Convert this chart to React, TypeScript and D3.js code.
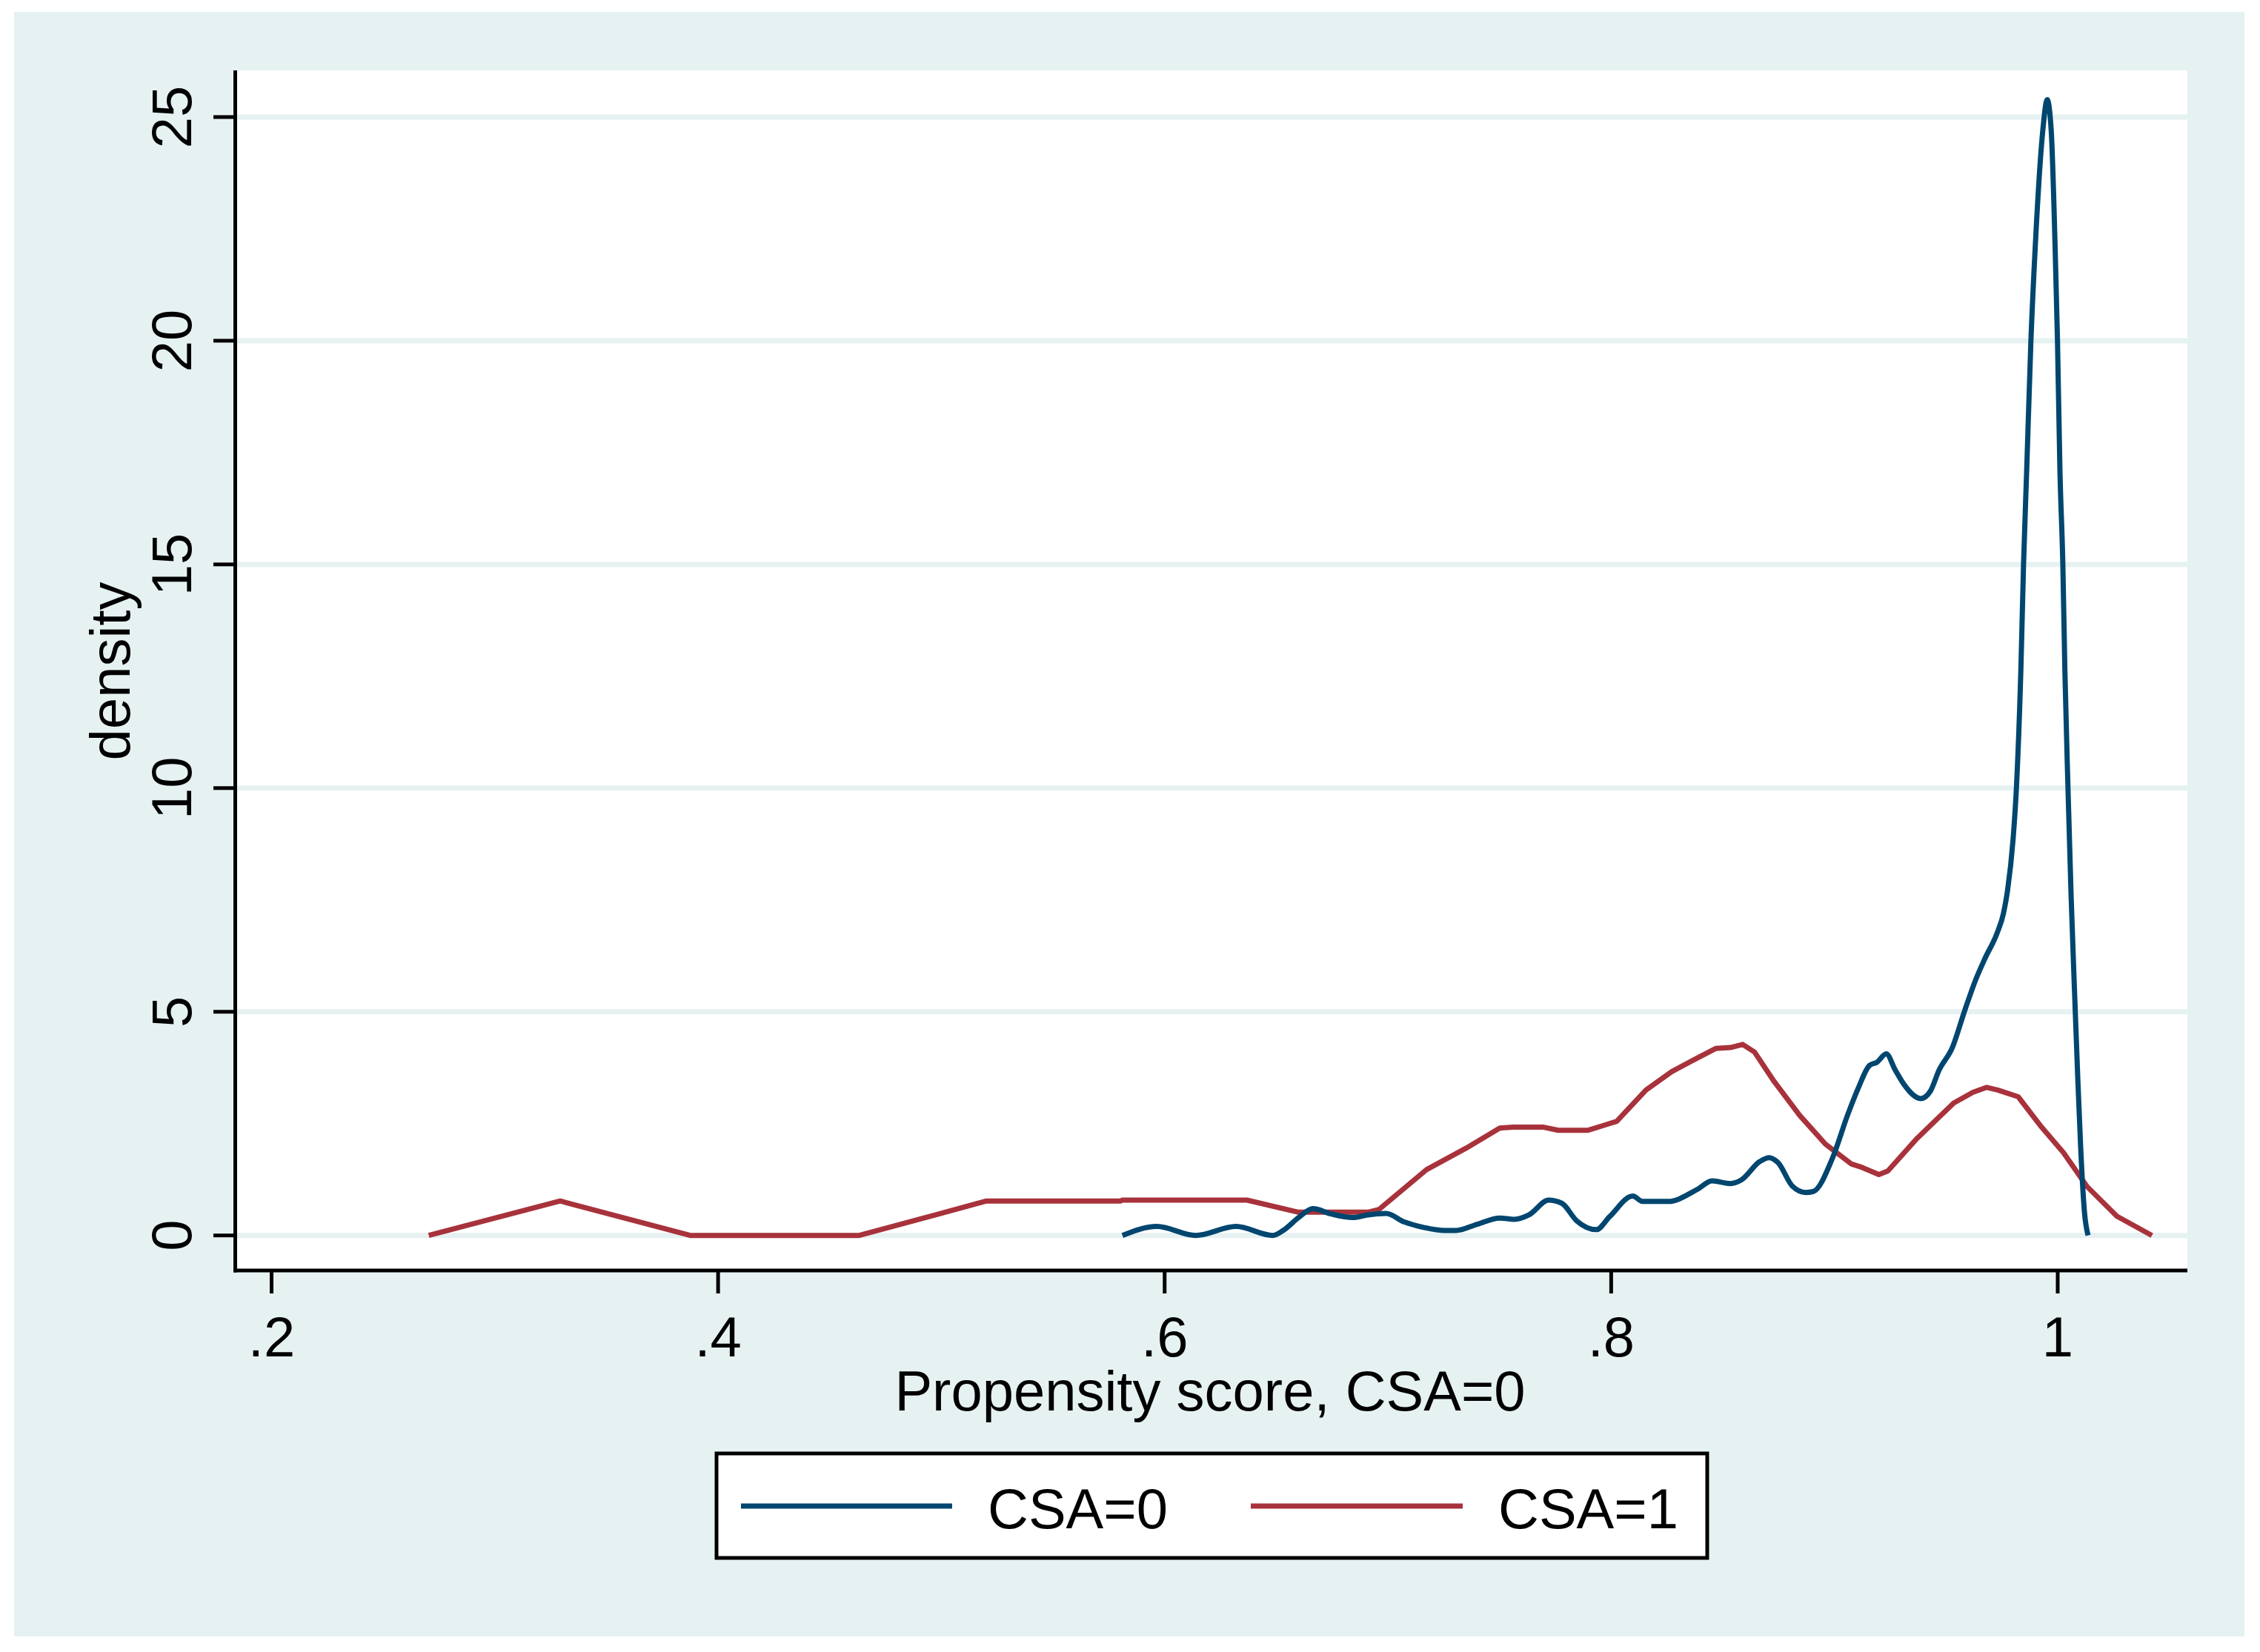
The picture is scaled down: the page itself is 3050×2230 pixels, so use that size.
import React, { useEffect } from "react";
import * as d3 from "d3";

// ---- data ----
const xTicks = [0.2, 0.4, 0.6, 0.8, 1.0];
const xTickLabels = [".2", ".4", ".6", ".8", "1"];
const yTicks = [0, 5, 10, 15, 20, 25];
const yTickLabels = ["0", "5", "10", "15", "20", "25"];
const seriesNames = ["CSA=0", "CSA=1"];
const seriesColors = ["#00466f", "#a8323b"];
const xTitle = "Propensity score, CSA=0";
const yTitle = "density";

// CSA=0 density
const csa0: [number, number][] = [
  [0.5811, 0], [0.5965, 0.2], [0.6139, 0.0], [0.632, 0.2], [0.6484, 0.0], [0.6533, 0.12],
  [0.66, 0.4], [0.6664, 0.6], [0.6746, 0.48], [0.6844, 0.4], [0.691, 0.46], [0.6992, 0.49],
  [0.7074, 0.3], [0.716, 0.18], [0.7254, 0.11], [0.7304, 0.11], [0.74, 0.25], [0.7501, 0.39],
  [0.7566, 0.36], [0.7632, 0.46], [0.772, 0.79], [0.7779, 0.72], [0.7845, 0.33], [0.7934, 0.13],
  [0.7993, 0.42], [0.8097, 0.88], [0.814, 0.76], [0.8255, 0.76], [0.8386, 1.03], [0.8452, 1.22],
  [0.8534, 1.16], [0.8583, 1.24], [0.8665, 1.65], [0.8707, 1.74], [0.8747, 1.63], [0.8812, 1.1],
  [0.8871, 0.96], [0.8904, 0.98], [0.8993, 1.75], [0.9058, 2.68], [0.9108, 3.31], [0.9157, 3.8],
  [0.919, 3.87], [0.9232, 4.06], [0.9272, 3.7], [0.9311, 3.38], [0.9387, 3.06], [0.9429, 3.22],
  [0.9469, 3.7], [0.9528, 4.2], [0.9583, 5.02], [0.9633, 5.72], [0.9675, 6.2], [0.9731, 6.79],
  [0.9757, 7.2], [0.9775, 7.7], [0.98, 8.85], [0.9815, 10.0], [0.9835, 12.65], [0.9847, 15.0],
  [0.9861, 17.09], [0.988, 20.0], [0.99, 22.16], [0.9933, 24.69], [0.9953, 25.39], [0.9971, 24.69],
  [0.9988, 22.16], [0.9999, 20.0], [1.001, 17.09], [1.0023, 15.0], [1.0032, 12.65], [1.0046, 10.0],
  [1.006, 7.59], [1.0075, 5.5], [1.009, 3.5], [1.0103, 1.95], [1.012, 0.51], [1.0136, 0],
];

// CSA=1 density
const csa1: [number, number][] = [
  [0.2704, 0], [0.3293, 0.77], [0.3875, 0], [0.4632, 0], [0.5202, 0.77], [0.5803, 0.77],
  [0.581, 0.79], [0.6369, 0.79], [0.6599, 0.52], [0.691, 0.52], [0.696, 0.58], [0.7173, 1.47],
  [0.735, 1.95], [0.7501, 2.4], [0.756, 2.42], [0.7698, 2.42], [0.7763, 2.35], [0.7894, 2.35],
  [0.796, 2.45], [0.8025, 2.55], [0.8156, 3.25], [0.8271, 3.66], [0.838, 3.95], [0.8468, 4.18],
  [0.8534, 4.2], [0.8589, 4.27], [0.8642, 4.1], [0.873, 3.44], [0.8845, 2.68], [0.896, 2.04],
  [0.9075, 1.6], [0.9124, 1.52], [0.9199, 1.36], [0.9239, 1.44], [0.937, 2.17], [0.9534, 2.96],
  [0.962, 3.2], [0.9682, 3.31], [0.9731, 3.25], [0.9823, 3.1], [0.9928, 2.42], [1.0026, 1.85],
  [1.0132, 1.09], [1.0265, 0.43], [1.0422, 0.0],
];

const W = 3050;
const H = 2230;
const FONT = "'Liberation Sans', Arial, Helvetica, sans-serif";
const BG = "#e6f1f2";

export default function App() {
  useEffect(() => {
    document.body.style.margin = "0";
  }, []);

  const plotL = 317.5;
  const plotR = 2952;
  const plotT = 95;
  const plotB = 1715;

  const x = d3.scaleLinear().domain([0.2, 1.0]).range([366.5, 2777]);
  const y = d3.scaleLinear().domain([0, 25]).range([1667.7, 158]);

  const lineBlue = d3
    .line<[number, number]>()
    .x((d) => x(d[0]))
    .y((d) => y(d[1]))
    .curve(d3.curveMonotoneX);
  const lineRed = d3
    .line<[number, number]>()
    .x((d) => x(d[0]))
    .y((d) => y(d[1]))
    .curve(d3.curveLinear);

  const legendY = 2033;

  return (
    <svg
      width={W}
      height={H}
      viewBox={`0 0 ${W} ${H}`}
      style={{ display: "block", position: "absolute", left: 0, top: 0 }}
      fontFamily={FONT}
    >
      <rect x={0} y={0} width={W} height={H} fill="#ffffff" />
      <rect x={19} y={16} width={3029 - 19} height={2209 - 16} fill={BG} />
      <rect x={plotL} y={plotT} width={plotR - plotL} height={plotB - plotT} fill="#ffffff" />

      {/* grid lines */}
      {yTicks.map((t) => (
        <line key={"g" + t} x1={plotL + 2} x2={plotR} y1={y(t)} y2={y(t)} stroke={BG} strokeWidth={7} />
      ))}

      {/* series */}
      <path d={lineRed(csa1) || ""} fill="none" stroke={seriesColors[1]} strokeWidth={7} strokeLinejoin="round" />
      <path d={lineBlue(csa0) || ""} fill="none" stroke={seriesColors[0]} strokeWidth={7} strokeLinejoin="round" />

      {/* axes */}
      <line x1={plotL} x2={plotL} y1={plotT} y2={plotB + 2.5} stroke="#000" strokeWidth={5} />
      <line x1={plotL - 2.5} x2={plotR} y1={plotB} y2={plotB} stroke="#000" strokeWidth={5} />

      {/* y ticks */}
      {yTicks.map((t, i) => (
        <g key={"yt" + t}>
          <line x1={288} x2={plotL} y1={y(t)} y2={y(t)} stroke="#000" strokeWidth={5} />
          <text
            transform={`translate(258,${y(t)}) rotate(-90)`}
            textAnchor="middle"
            fontSize={76}
            fill="#000"
          >
            {yTickLabels[i]}
          </text>
        </g>
      ))}

      {/* x ticks */}
      {xTicks.map((t, i) => (
        <g key={"xt" + t}>
          <line x1={x(t)} x2={x(t)} y1={plotB} y2={1746} stroke="#000" strokeWidth={5} />
          <text x={x(t)} y={1831} textAnchor="middle" fontSize={76} fill="#000">
            {xTickLabels[i]}
          </text>
        </g>
      ))}

      {/* axis titles */}
      <text x={1633} y={1904} textAnchor="middle" fontSize={76} fill="#000">
        {xTitle}
      </text>
      <text transform="translate(175,906) rotate(-90)" textAnchor="middle" fontSize={76} fill="#000">
        {yTitle}
      </text>

      {/* legend */}
      <rect x={967} y={1962} width={2304 - 967} height={2103 - 1962} fill="#ffffff" stroke="#000" strokeWidth={5} />
      <line x1={1000} x2={1285} y1={legendY} y2={legendY} stroke={seriesColors[0]} strokeWidth={7} />
      <text x={1333} y={2063} fontSize={76} fill="#000">
        {seriesNames[0]}
      </text>
      <line x1={1688} x2={1974} y1={legendY} y2={legendY} stroke={seriesColors[1]} strokeWidth={7} />
      <text x={2022} y={2063} fontSize={76} fill="#000">
        {seriesNames[1]}
      </text>
    </svg>
  );
}
